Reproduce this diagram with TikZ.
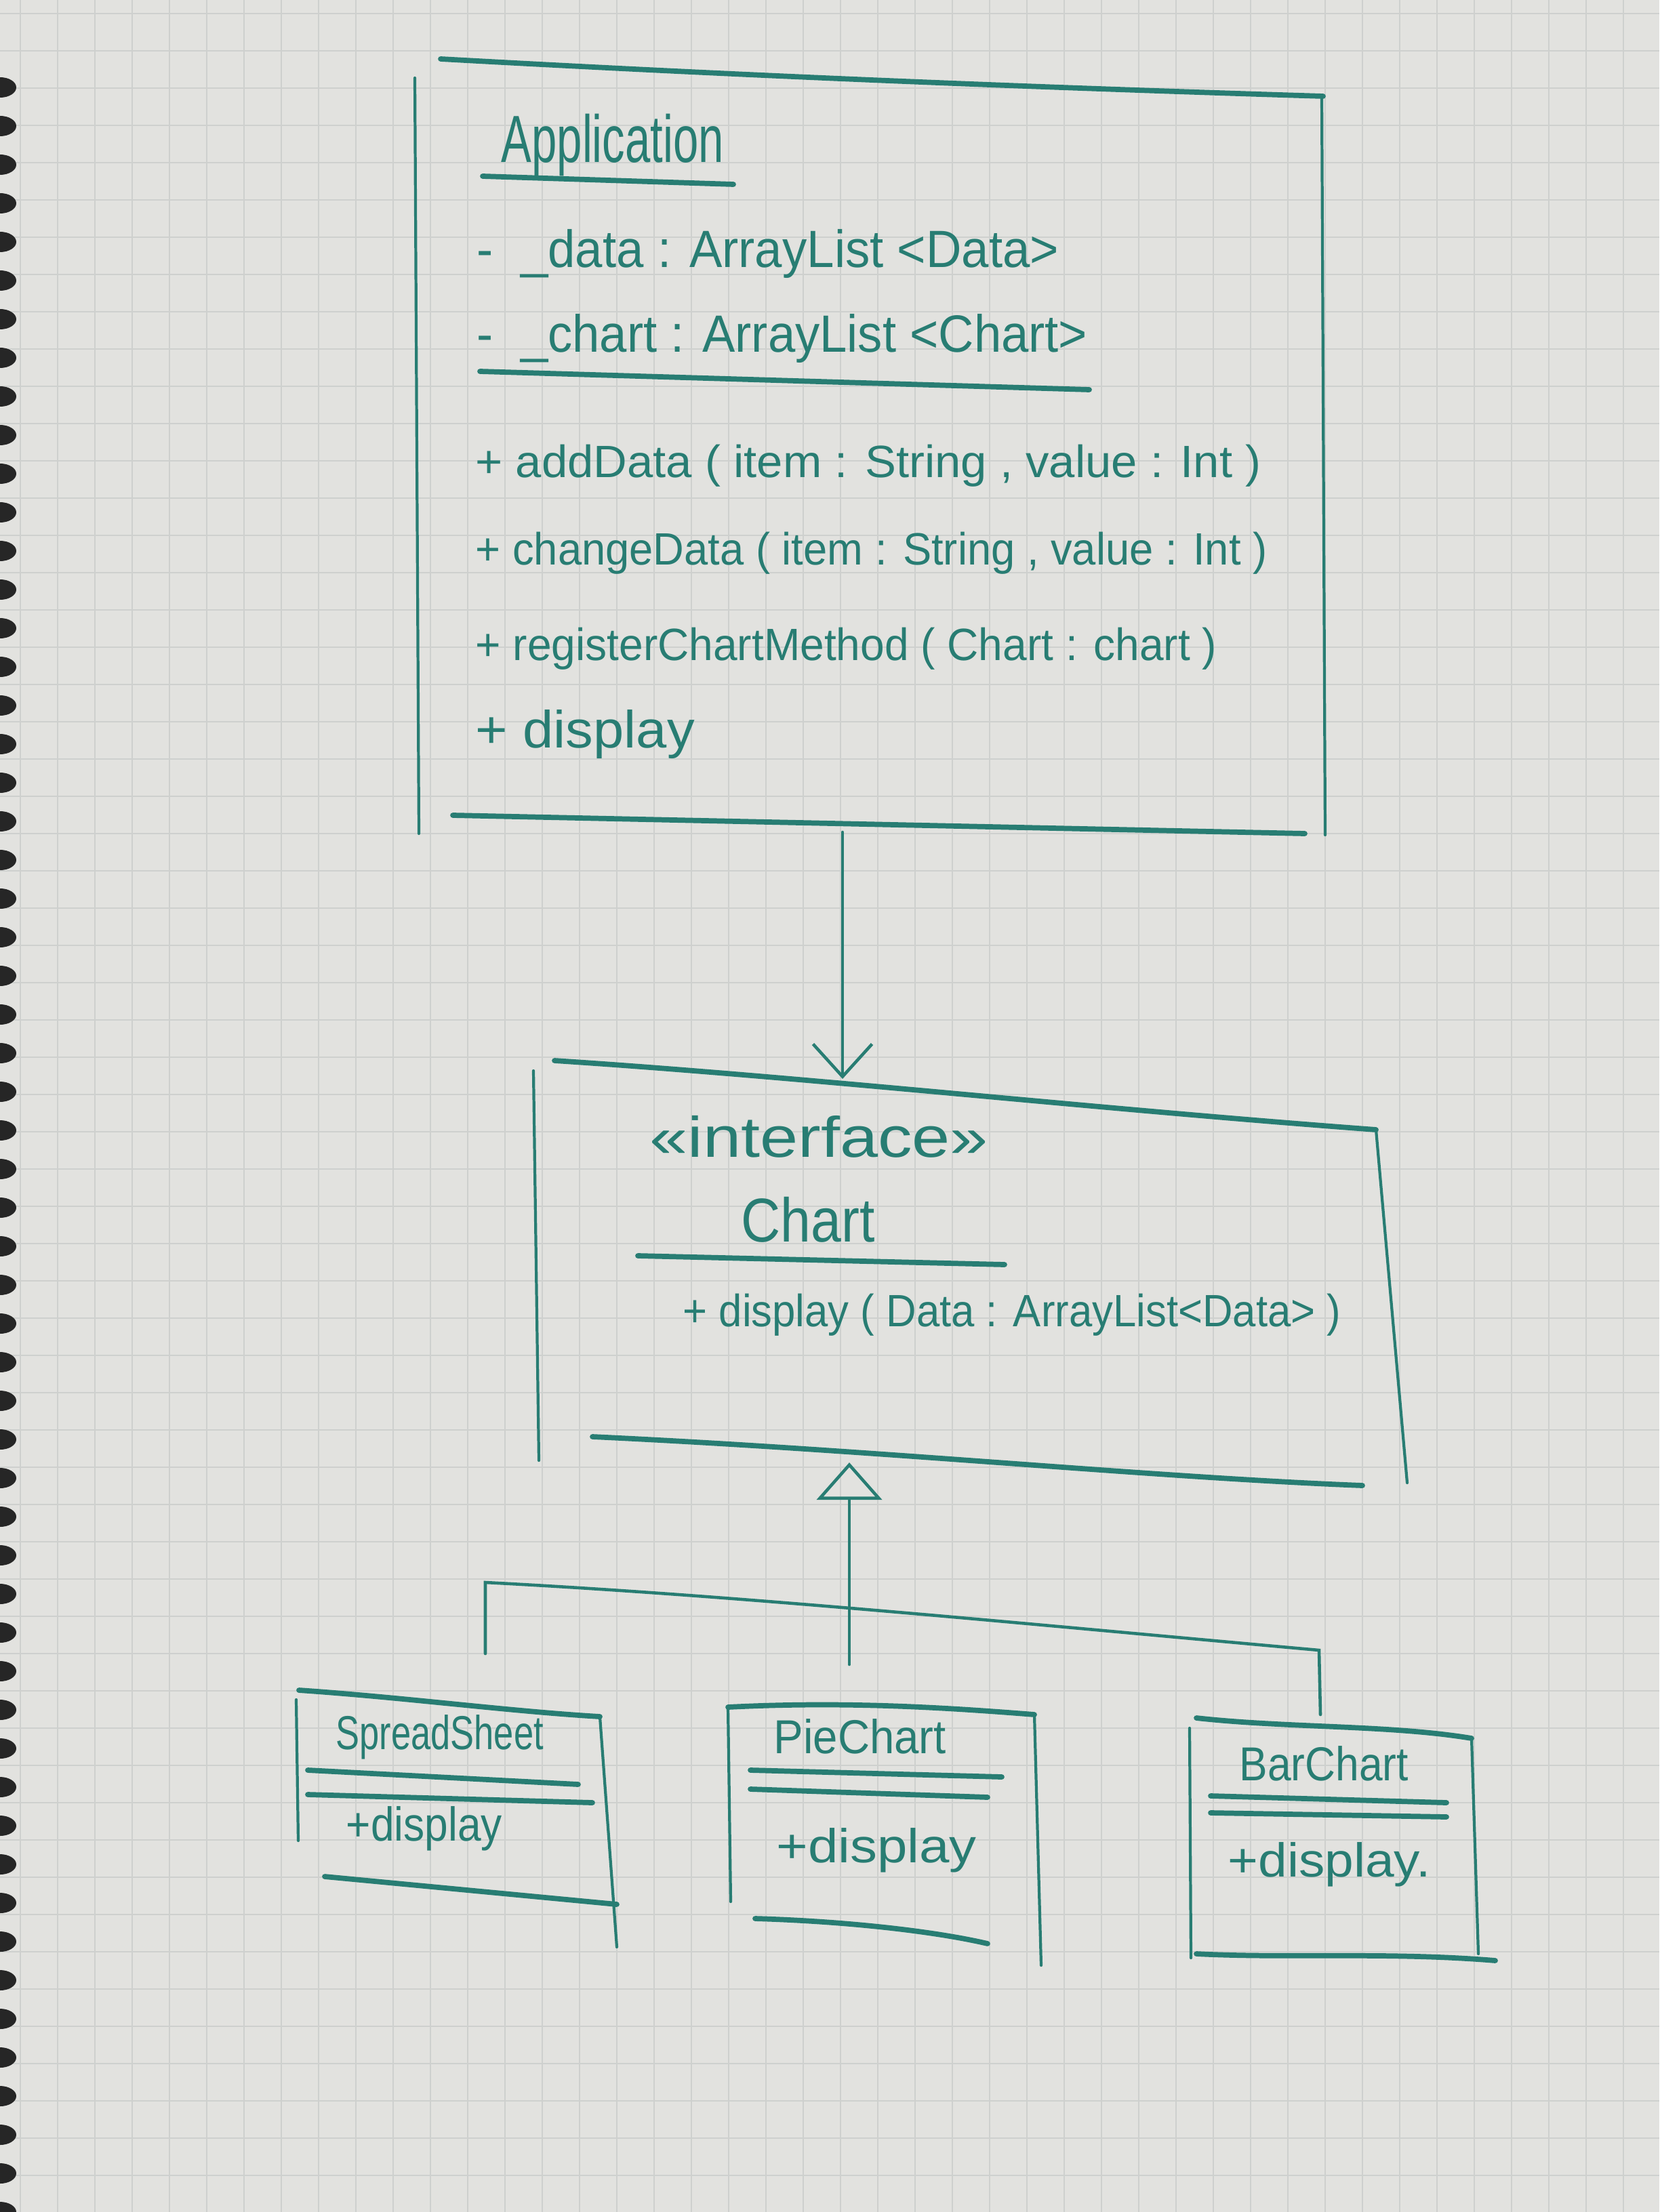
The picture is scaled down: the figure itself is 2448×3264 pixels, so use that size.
\documentclass[tikz,border=0pt]{standalone}
\usepackage{fontspec}
\setmainfont{Liberation Sans}
\usetikzlibrary{arrows.meta}
\definecolor{ink}{RGB}{40,125,115}
\definecolor{paper}{RGB}{226,226,223}
\definecolor{gridc}{RGB}{206,208,206}
\newcommand\hw[2]{\resizebox{#1}{\height}{#2}}
\begin{document}
\begin{tikzpicture}[x=0.01cm,y=-0.01cm,
  txt/.style={text=ink, inner sep=0pt, anchor=base west},
  hline/.style={draw=ink, line width=2.2pt, line cap=round},
  vline/.style={draw=ink, line width=1.2pt, line cap=round},
  conn/.style={draw=ink, line width=1.3pt, line cap=round}]
\fill[paper] (0,0) rectangle (2448,3264);
\useasboundingbox (0,0) rectangle (2448,3264);
% grid paper
\foreach \i in {0,...,44} \draw[gridc, line width=0.6pt] (30+55*\i,0) -- (30+55*\i,3264);
\foreach \i in {0,...,59} \draw[gridc, line width=0.6pt] (0,20+55*\i) -- (2448,20+55*\i);
% binding holes
\foreach \i in {0,...,55} \fill[black!85] (0,129+57*\i) ellipse [x radius=24, y radius=15];

% ---------- Application ----------
\draw[hline] (650,87) .. controls (1100,112) and (1500,128) .. (1952,142);
\draw[vline] (612,115) -- (618,1230);
\draw[vline] (1950,142) -- (1955,1232);
\draw[hline] (668,1203) -- (1925,1230);
\node[txt, font=\fontsize{28}{30}\selectfont] (appname) at (739,240) {\hw{3.28cm}{Application}};
\draw[hline] (712,260) -- (1082,272);
\node[txt, font=\fontsize{22}{24}\selectfont] (attr1) at (703,395) {\hw{8.58cm}{-\ \ \_data : ArrayList <Data>}};
\node[txt, font=\fontsize{22}{24}\selectfont] (attr2) at (703,520) {\hw{9.0cm}{-\ \ \_chart : ArrayList <Chart>}};
\draw[hline] (708,548) -- (1607,575);
\node[txt, font=\fontsize{19}{21}\selectfont] (m1) at (701,704) {\hw{11.58cm}{+ addData ( item : String , value : Int )}};
\node[txt, font=\fontsize{19}{21}\selectfont] (m2) at (701,833) {\hw{11.67cm}{+ changeData ( item : String , value : Int )}};
\node[txt, font=\fontsize{19}{21}\selectfont] (m3) at (701,974) {\hw{10.93cm}{+ registerChartMethod ( Chart : chart )}};
\node[txt, font=\fontsize{22}{24}\selectfont] (m4) at (701,1103) {\hw{3.23cm}{+ display}};
\coordinate (appOut) at (1243,1228);

% ---------- Chart interface ----------
\draw[hline] (818,1565) .. controls (1200,1590) and (1600,1635) .. (2030,1667);
\draw[vline] (787,1580) -- (795,2155);
\draw[vline] (2030,1667) -- (2076,2188);
\draw[hline] (874,2120) .. controls (1300,2140) and (1700,2180) .. (2010,2192);
\node[txt, font=\fontsize{24}{26}\selectfont] (stereo) at (958,1707) {\hw{4.99cm}{«interface»}};
\node[txt, font=\fontsize{26}{28}\selectfont] (chartname) at (1093,1832) {\hw{1.97cm}{Chart}};
\draw[hline] (941,1853) -- (1482,1866);
\node[txt, font=\fontsize{19}{21}\selectfont] (cm1) at (1007,1957) {\hw{9.7cm}{+ display ( Data : ArrayList<Data> )}};
\coordinate (chartIn) at (1243,1592);
\coordinate (chartOut) at (1253,2158);

% association arrow
\draw[conn, -{Straight Barb[length=0.48cm, width=0.87cm, line width=1.3pt]}] (appOut) -- (chartIn);

% ---------- SpreadSheet ----------
\draw[hline] (441,2494) .. controls (600,2505) and (750,2525) .. (885,2533);
\draw[vline] (437,2508) -- (440,2716);
\draw[vline] (885,2533) -- (910,2873);
\draw[hline] (454,2612) -- (853,2633);
\draw[hline] (454,2648) -- (874,2660);
\draw[hline] (479,2769) -- (910,2810);
\node[txt, font=\fontsize{20}{22}\selectfont] (ssname) at (495,2581) {\hw{3.06cm}{SpreadSheet}};
\node[txt, font=\fontsize{20}{22}\selectfont] (ssm) at (510,2716) {\hw{2.3cm}{+display}};
\coordinate (ssIn) at (716,2440);

% ---------- PieChart ----------
\draw[hline] (1074,2519) .. controls (1250,2510) and (1400,2520) .. (1526,2530);
\draw[vline] (1074,2519) -- (1078,2806);
\draw[vline] (1526,2530) -- (1536,2900);
\draw[hline] (1107,2612) -- (1478,2622);
\draw[hline] (1107,2640) -- (1457,2652);
\draw[hline] (1114,2831) .. controls (1250,2835) and (1380,2850) .. (1457,2868);
\node[txt, font=\fontsize{20}{22}\selectfont] (piename) at (1141,2587) {\hw{2.54cm}{PieChart}};
\node[txt, font=\fontsize{20}{22}\selectfont] (piem) at (1145,2748) {\hw{2.95cm}{+display}};
\coordinate (pieIn) at (1253,2456);

% ---------- BarChart ----------
\draw[hline] (1765,2535) .. controls (1900,2550) and (2050,2545) .. (2171,2565);
\draw[vline] (1755,2550) -- (1757,2889);
\draw[vline] (2171,2565) -- (2181,2883);
\draw[hline] (1786,2650) -- (2134,2660);
\draw[hline] (1786,2675) -- (2134,2681);
\draw[hline] (1765,2883) .. controls (1900,2890) and (2050,2880) .. (2206,2893);
\node[txt, font=\fontsize{20}{22}\selectfont] (barname) at (1828,2627) {\hw{2.49cm}{BarChart}};
\node[txt, font=\fontsize{20}{22}\selectfont] (barm) at (1811,2769) {\hw{2.99cm}{+display.}};
\coordinate (barIn) at (1948,2530);

% ---------- generalization ----------
\coordinate (brL) at (716,2335);
\coordinate (brR) at (1946,2435);
\draw[conn] (ssIn) -- (brL) .. controls (1100,2355) and (1500,2395) .. (brR) -- (barIn);
\draw[conn, -{Triangle[open, length=0.55cm, width=0.96cm, line width=1.3pt]}] (pieIn) -- (chartOut);
\end{tikzpicture}
\end{document}
